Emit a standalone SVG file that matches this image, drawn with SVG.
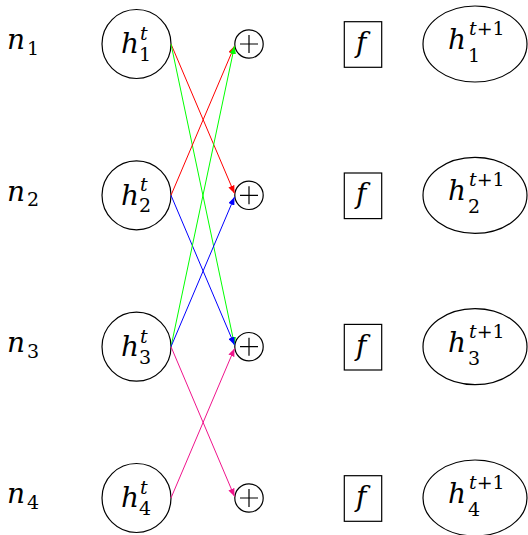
<svg xmlns="http://www.w3.org/2000/svg" width="528" height="535" viewBox="0 0 528 535">
<style>
.node{fill:#fff;stroke:#000;stroke-width:1.2}
.m{font-style:italic;font-size:28px}
.s{font-style:normal;font-size:19px}
.si{font-style:italic;font-size:19px}
.plus{stroke:#000;stroke-width:1.2;fill:none}
.e{fill:none;stroke-width:1}
</style>
<defs>
<marker id="ar" viewBox="0 0 10 8" refX="10" refY="4" markerWidth="8" markerHeight="6.4" markerUnits="userSpaceOnUse" orient="auto"><path d="M0,0 L10,4 L0,8 Z" fill="#f00"/></marker>
<marker id="ag" viewBox="0 0 10 8" refX="10" refY="4" markerWidth="8" markerHeight="6.4" markerUnits="userSpaceOnUse" orient="auto"><path d="M0,0 L10,4 L0,8 Z" fill="#0f0"/></marker>
<marker id="ab" viewBox="0 0 10 8" refX="10" refY="4" markerWidth="8" markerHeight="6.4" markerUnits="userSpaceOnUse" orient="auto"><path d="M0,0 L10,4 L0,8 Z" fill="#00f"/></marker>
<marker id="am" viewBox="0 0 10 8" refX="10" refY="4" markerWidth="8" markerHeight="6.4" markerUnits="userSpaceOnUse" orient="auto"><path d="M0,0 L10,4 L0,8 Z" fill="#f0148c"/></marker>
</defs>

<g font-family="DejaVu Serif, serif" fill="#000">
<g id="n1"><text x="7" y="49.3"><tspan class="m">n</tspan><tspan class="s" x="27" y="55">1</tspan></text></g>
<g id="n2"><text x="7" y="200.6"><tspan class="m">n</tspan><tspan class="s" x="27" y="206.3">2</tspan></text></g>
<g id="n3"><text x="7" y="352"><tspan class="m">n</tspan><tspan class="s" x="27" y="357.7">3</tspan></text></g>
<g id="n4"><text x="7" y="503.3"><tspan class="m">n</tspan><tspan class="s" x="27" y="509">4</tspan></text></g>

<g id="h1t"><circle class="node" cx="136.5" cy="44" r="34.5"/><text x="121" y="53.3"><tspan class="m">h</tspan><tspan class="si" x="140" y="40">t</tspan><tspan class="s" x="139" y="61">1</tspan></text></g>
<g id="h2t"><circle class="node" cx="136.5" cy="195.3" r="34.5"/><text x="121" y="204.6"><tspan class="m">h</tspan><tspan class="si" x="140" y="191.3">t</tspan><tspan class="s" x="139" y="212.3">2</tspan></text></g>
<g id="h3t"><circle class="node" cx="136.5" cy="346.7" r="34.5"/><text x="121" y="356"><tspan class="m">h</tspan><tspan class="si" x="140" y="342.7">t</tspan><tspan class="s" x="139" y="363.7">3</tspan></text></g>
<g id="h4t"><circle class="node" cx="136.5" cy="498" r="34.5"/><text x="121" y="507.3"><tspan class="m">h</tspan><tspan class="si" x="140" y="494">t</tspan><tspan class="s" x="139" y="515">4</tspan></text></g>

<g id="p1"><circle class="node" cx="249" cy="44" r="14.2"/><path class="plus" d="M240,44 H258 M249,35 V53"/></g>
<g id="p2"><circle class="node" cx="249" cy="195.3" r="14.2"/><path class="plus" d="M240,195.3 H258 M249,186.3 V204.3"/></g>
<g id="p3"><circle class="node" cx="249" cy="346.7" r="14.2"/><path class="plus" d="M240,346.7 H258 M249,337.7 V355.7"/></g>
<g id="p4"><circle class="node" cx="249" cy="498" r="14.2"/><path class="plus" d="M240,498 H258 M249,489 V507"/></g>

<g id="f1"><rect class="node" x="344.3" y="21.7" width="37.4" height="45.6"/><text x="356" y="52"><tspan class="m">f</tspan></text></g>
<g id="f2"><rect class="node" x="344.3" y="173" width="37.4" height="45.6"/><text x="356" y="203.3"><tspan class="m">f</tspan></text></g>
<g id="f3"><rect class="node" x="344.3" y="324.4" width="37.4" height="45.6"/><text x="356" y="354.7"><tspan class="m">f</tspan></text></g>
<g id="f4"><rect class="node" x="344.3" y="475.7" width="37.4" height="45.6"/><text x="356" y="506"><tspan class="m">f</tspan></text></g>

<g id="h1n"><ellipse class="node" cx="475" cy="44" rx="52" ry="38"/><text x="448" y="49"><tspan class="m">h</tspan><tspan class="si" x="469" y="35">t</tspan><tspan class="s">+1</tspan><tspan class="s" x="468" y="62">1</tspan></text></g>
<g id="h2n"><ellipse class="node" cx="475" cy="195.3" rx="52" ry="38"/><text x="448" y="200.3"><tspan class="m">h</tspan><tspan class="si" x="469" y="186.3">t</tspan><tspan class="s">+1</tspan><tspan class="s" x="468" y="213.3">2</tspan></text></g>
<g id="h3n"><ellipse class="node" cx="475" cy="346.7" rx="52" ry="38"/><text x="448" y="351.7"><tspan class="m">h</tspan><tspan class="si" x="469" y="337.7">t</tspan><tspan class="s">+1</tspan><tspan class="s" x="468" y="364.7">3</tspan></text></g>
<g id="h4n"><ellipse class="node" cx="475" cy="498" rx="52" ry="38"/><text x="448" y="503"><tspan class="m">h</tspan><tspan class="si" x="469" y="489">t</tspan><tspan class="s">+1</tspan><tspan class="s" x="468" y="516">4</tspan></text></g>
</g>

<g id="connectors">
<line class="e" stroke="#f00" x1="171" y1="44" x2="234.5" y2="193.5" marker-end="url(#ar)"/>
<line class="e" stroke="#0f0" x1="171" y1="44" x2="234.5" y2="345" marker-end="url(#ag)"/>
<line class="e" stroke="#f00" x1="171" y1="195.3" x2="234.5" y2="46" marker-end="url(#ar)"/>
<line class="e" stroke="#00f" x1="171" y1="195.3" x2="234.5" y2="345" marker-end="url(#ab)"/>
<line class="e" stroke="#0f0" x1="171" y1="346.7" x2="234.5" y2="46" marker-end="url(#ag)"/>
<line class="e" stroke="#00f" x1="171" y1="346.7" x2="234.5" y2="197" marker-end="url(#ab)"/>
<line class="e" stroke="#f0148c" x1="171" y1="346.7" x2="234.5" y2="496.5" marker-end="url(#am)"/>
<line class="e" stroke="#f0148c" x1="171" y1="498" x2="234.5" y2="348.5" marker-end="url(#am)"/>
</g>
</svg>
